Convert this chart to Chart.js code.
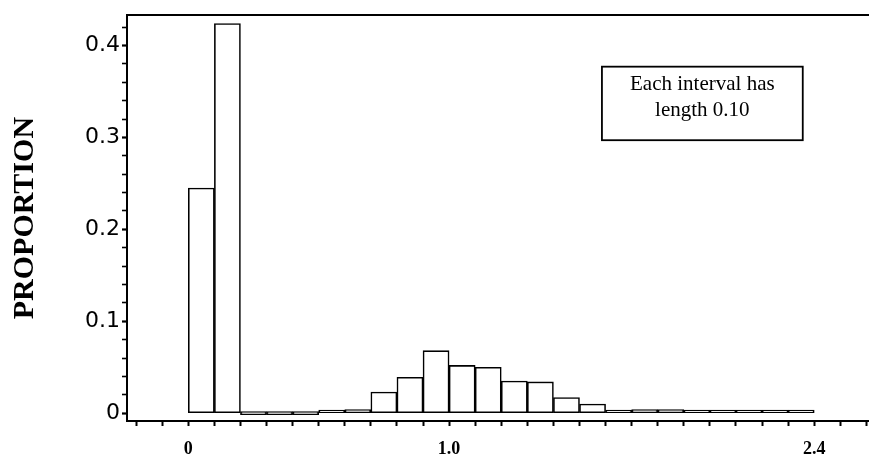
<!DOCTYPE html>
<html>
<head>
<meta charset="utf-8">
<title>Proportion histogram</title>
<script src="https://cdn.jsdelivr.net/npm/chart.js@4"></script>
<style>
  html, body { margin: 0; padding: 0; background: #fff; }
  #wrap { width: 869px; height: 463px; position: relative; }
</style>
</head>
<body>
<div id="wrap"><canvas id="histChart"></canvas></div>
<script>

//HISTOGRAM DATA - left edge of each interval and the proportion in it

var binWidth = 0.1;
var binStart = [0.0, 0.1, 0.2, 0.3, 0.4, 0.5, 0.6, 0.7, 0.8, 0.9, 1.0, 1.1,
                1.2, 1.3, 1.4, 1.5, 1.6, 1.7, 1.8, 1.9, 2.0, 2.1, 2.2, 2.3];
var proportion = [0.245, 0.424, 0.000, 0.000, 0.000, 0.001, 0.004, 0.023, 0.039, 0.068, 0.052, 0.050,
                  0.035, 0.034, 0.017, 0.010, 0.001, 0.004, 0.004, 0.002, 0.001, 0.003, 0.001, 0.003];

// labelled ticks
var xLabelValues = [0, 1.0, 2.4];
var xLabels = ['0', '1.0', '2.4'];
var yLabelValues = [0, 0.1, 0.2, 0.3, 0.4];
var yLabels = ['0', '0.1', '0.2', '0.3', '0.4'];

var noteLines = ['Each interval has', 'length 0.10'];

// small tick marks every 0.1 on x and every 0.02 on y
var xTickMarks = [];
for (var t = -2; t <= 26; t++) xTickMarks.push(Math.round(t * 10) / 100);
var yTickMarks = [];
for (var s = 0; s <= 21; s++) yTickMarks.push(Math.round(s * 2) / 100);

function findLabel(value, values, labels) {
    for (var i = 0; i < values.length; i++) {
        if (Math.abs(values[i] - value) < 1e-6) return labels[i];
    }
    return '';
}

var bars = binStart.map(function(start, i) {
    return { x: start + binWidth / 2, y: proportion[i] };
});

// text box in the upper right, placed in data units
var noteBox = { left: 1.586, right: 2.356, top: 0.377, bottom: 0.297 };

var notePlugin = {
    id: 'noteBox',
    afterDraw: function(chart) {
        var ctx = chart.ctx;
        var xs = chart.scales.x, ys = chart.scales.y;
        var l = xs.getPixelForValue(noteBox.left);
        var r = xs.getPixelForValue(noteBox.right);
        var t = ys.getPixelForValue(noteBox.top);
        var b = ys.getPixelForValue(noteBox.bottom);
        ctx.save();
        ctx.strokeStyle = '#000';
        ctx.lineWidth = 1.8;
        ctx.strokeRect(l, t, r - l, b - t);
        ctx.fillStyle = '#000';
        ctx.font = '21px "Liberation Serif"';
        ctx.textAlign = 'center';
        ctx.textBaseline = 'middle';
        ctx.fillText(noteLines[0], (l + r) / 2, t + 18);
        ctx.fillText(noteLines[1], (l + r) / 2, t + 44);
        ctx.restore();
    }
};

var ctx = document.getElementById('histChart').getContext('2d');
var chart = new Chart(ctx, {
    type: 'bar',
    data: {
        datasets: [{
            data: bars,
            backgroundColor: '#fff',
            borderColor: '#000',
            borderWidth: 1.6,
            borderSkipped: false,
            minBarLength: 3,
            barPercentage: 1,
            categoryPercentage: 1
        }]
    },
    options: {
        responsive: true,
        maintainAspectRatio: false,
        animation: false,
        layout: { padding: { top: 6, right: 0, bottom: 0, left: 0 } },
        plugins: {
            legend: { display: false },
            tooltip: { enabled: false }
        },
        scales: {
            x: {
                type: 'linear',
                position: 'bottom',
                offset: false,
                min: -0.235,
                max: 2.61,
                afterBuildTicks: function(scale) {
                    scale.ticks = xTickMarks.map(function(v) { return { value: v }; });
                },
                afterFit: function(scale) { scale.height = 42; },
                ticks: {
                    autoSkip: false,
                    maxRotation: 0,
                    padding: 0,
                    color: '#000',
                    font: { family: 'Liberation Serif', size: 18, weight: 'bold', lineHeight: 2.6 },
                    callback: function(value) { return findLabel(value, xLabelValues, xLabels); }
                },
                grid: { offset: false, drawOnChartArea: false, tickLength: 5, tickColor: '#000', tickWidth: 2 },
                border: { display: true, color: '#000', width: 2 }
            },
            x2: {
                type: 'linear',
                position: 'top',
                offset: false,
                min: -0.235,
                max: 2.61,
                afterFit: function(scale) { scale.height = 0; },
                ticks: { display: false },
                grid: { display: false, drawTicks: false },
                border: { display: true, color: '#000', width: 2 }
            },
            y: {
                type: 'linear',
                min: -0.0085,
                max: 0.433,
                afterBuildTicks: function(scale) {
                    scale.ticks = yTickMarks.map(function(v) { return { value: v }; });
                },
                afterFit: function(scale) { scale.width = 127; },
                ticks: {
                    autoSkip: false,
                    padding: 2,
                    color: '#000',
                    font: { family: 'DejaVu Sans', size: 22 },
                    callback: function(value) { return findLabel(value, yLabelValues, yLabels); }
                },
                grid: {
                    drawOnChartArea: false,
                    tickLength: 5,
                    tickColor: '#000',
                    tickWidth: function(c) {
                        return findLabel(c.tick.value, yLabelValues, yLabels) ? 2.2 : 1.6;
                    }
                },
                border: { display: true, color: '#000', width: 2 },
                title: {
                    display: true,
                    text: 'PROPORTION',
                    color: '#000',
                    font: { family: 'Liberation Serif', size: 30, weight: 'bold' },
                    padding: { top: 7, bottom: 0 }
                }
            }
        }
    },
    plugins: [notePlugin]
});
</script>
</body>
</html>
